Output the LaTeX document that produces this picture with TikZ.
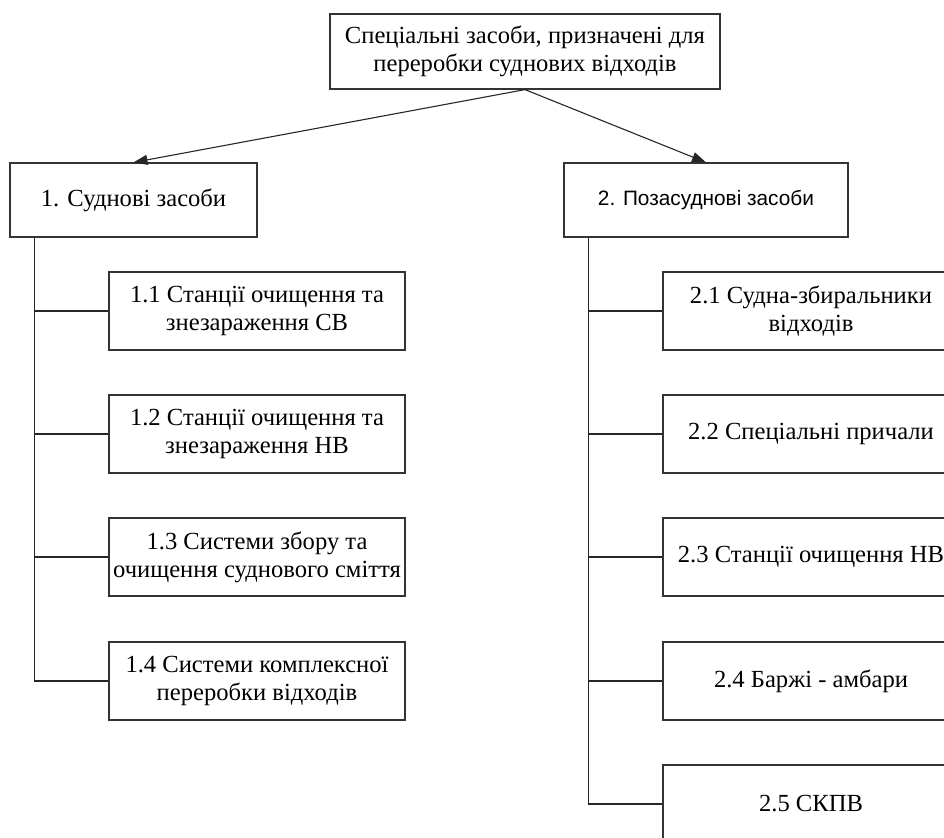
\documentclass[tikz,border=0pt]{standalone}
\usepackage{fontspec}
\setmainfont{Liberation Serif}
\newfontfamily\arialfont{Liberation Sans}
\usetikzlibrary{arrows.meta}

\tikzset{
  box/.style={draw=black!80, line width=0.6pt, fill=white, align=center,
    inner sep=0pt, font=\fontsize{12.3}{14}\selectfont},
  subbox/.style={box, minimum width=148pt, minimum height=39pt},
  link/.style={draw=black!85, line width=0.55pt},
  arr/.style={link, -{Triangle[length=7pt,width=5pt]}}
}

\begin{document}
\begin{tikzpicture}[x=0.5pt,y=-0.5pt]
    \useasboundingbox (0,0) rectangle (944,837);
    % top level
    \node[box, minimum width=195pt, minimum height=37.5pt] (top) at (525,51.5)
      {Спеціальні засоби, призначені для\\переробки суднових відходів};
    \node[box, minimum width=123.5pt, minimum height=37pt] (ship) at (133.5,200)
      {1. Суднові засоби};
    \node[box, minimum width=142pt, minimum height=37pt, font=\arialfont\fontsize{10.4}{12}\selectfont] (shore) at (706,200)
      {2. Позасуднові засоби};
    \draw[arr] (top.south) -- (ship.north);
    \draw[arr] (top.south) -- (shore.north);
    % ship means
    \node[subbox] (s11) at (257,311) {1.1 Станції очищення та\\знезараження СВ};
    \node[subbox] (s12) at (257,434) {1.2 Станції очищення та\\знезараження НВ};
    \node[subbox] (s13) at (257,557) {1.3 Системи збору та\\очищення суднового сміття};
    \node[subbox] (s14) at (257,681) {1.4 Системи комплексної\\переробки відходів};
    \coordinate (t1) at ([xshift=12.5pt]ship.south west);
    \foreach \n in {s11,s12,s13,s14}
      \draw[link] (t1) |- (\n.west);
    % shore means
    \node[subbox] (s21) at (811,311) {2.1 Судна-збиральники\\відходів};
    \node[subbox] (s22) at (811,434) {2.2 Спеціальні причали};
    \node[subbox] (s23) at (811,557) {2.3 Станції очищення НВ};
    \node[subbox] (s24) at (811,681) {2.4 Баржі - амбари};
    \node[subbox] (s25) at (811,804) {2.5 СКПВ};
    \coordinate (t2) at ([xshift=12.5pt]shore.south west);
    \foreach \n in {s21,s22,s23,s24,s25}
      \draw[link] (t2) |- (\n.west);
\end{tikzpicture}
\end{document}
